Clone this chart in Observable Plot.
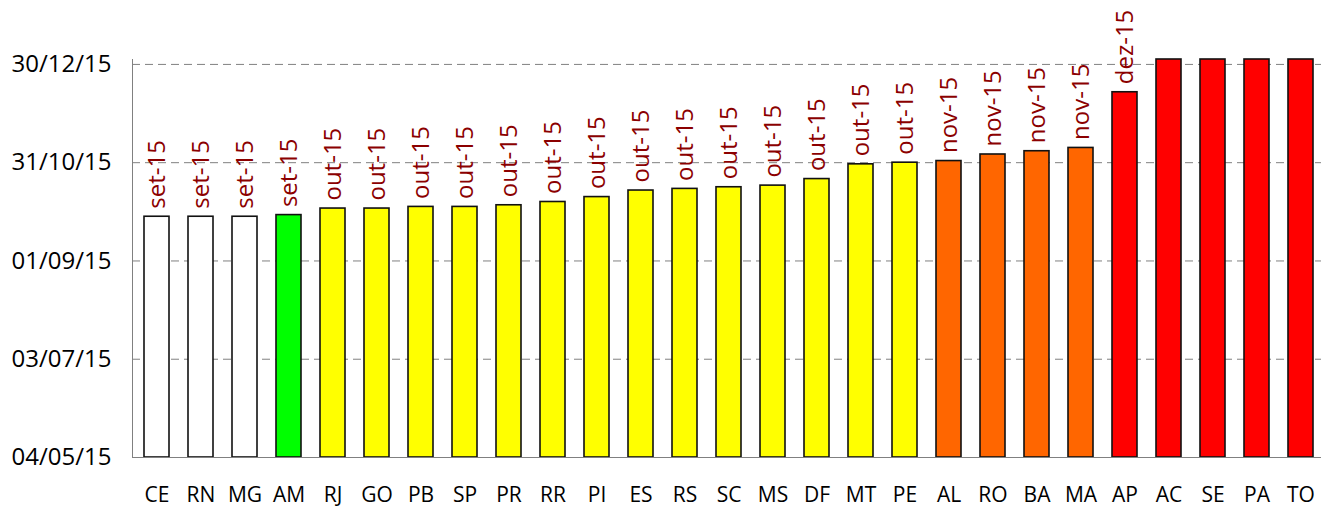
<!DOCTYPE html>
<html><head><meta charset="utf-8">
<script src="https://cdn.jsdelivr.net/npm/d3@7"></script>
<script src="https://cdn.jsdelivr.net/npm/@observablehq/plot@0.6"></script>
<style>html,body{margin:0;padding:0;background:#fff;overflow:hidden}</style>
</head><body><div id="chart"></div>
<script>
const states = ["CE","RN","MG","AM","RJ","GO","PB","SP","PR","RR","PI","ES","RS","SC","MS","DF","MT","PE","AL","RO","BA","MA","AP","AC","SE","PA","TO"];
const dates = ["2015-09-28","2015-09-28","2015-09-28","2015-09-29","2015-10-03","2015-10-03","2015-10-04","2015-10-04","2015-10-05","2015-10-07","2015-10-10","2015-10-14","2015-10-15","2015-10-16","2015-10-17","2015-10-21","2015-10-30","2015-10-31","2015-11-01","2015-11-05","2015-11-07","2015-11-09","2015-12-13","2016-01-02","2016-01-02","2016-01-02","2016-01-02"];
const monthLabels = ["set-15","set-15","set-15","set-15","out-15","out-15","out-15","out-15","out-15","out-15","out-15","out-15","out-15","out-15","out-15","out-15","out-15","out-15","nov-15","nov-15","nov-15","nov-15","dez-15","","","",""];
const groups = ["g0","g0","g0","g1","g2","g2","g2","g2","g2","g2","g2","g2","g2","g2","g2","g2","g2","g2","g3","g3","g3","g3","g4","g4","g4","g4","g4"];
const groupNames = ["g0","g1","g2","g3","g4"];
const groupColors = ["#ffffff","#00ff00","#ffff00","#ff6600","#ff0000"];
const yTicks = ["2015-05-04","2015-07-03","2015-09-01","2015-10-31","2015-12-30"];
const yDomain = ["2015-05-04","2016-01-02"];

const parse = d3.utcParse("%Y-%m-%d");
const data = states.map((s, i) => ({state: s, date: parse(dates[i]), label: monthLabels[i], group: groups[i]}));
const minDate = parse(yDomain[0]);
const tickDates = yTicks.map(parse);

const chart = Plot.plot({
  width: 1321,
  height: 509,
  marginLeft: 132,
  marginRight: -4,
  marginTop: 59,
  marginBottom: 52,
  style: {fontFamily: "'Open Sans', sans-serif", fontSize: "22px", color: "black", background: "white"},
  x: {domain: states, paddingInner: 0.44, paddingOuter: 0.22, label: null},
  y: {type: "utc", domain: yDomain.map(parse), label: null},
  color: {type: "ordinal", domain: groupNames, range: groupColors},
  marks: [
    Plot.gridY(tickDates, {stroke: "#808080", strokeOpacity: 1, strokeDasharray: "8,5"}),
    Plot.barY(data, {x: "state", y1: () => minDate, y2: "date", fill: "group", stroke: "#111", strokeWidth: 1.6}),
    Plot.text(data, {x: "state", y: "date", text: "label", rotate: -90, textAnchor: "start", lineAnchor: "middle", dy: -8, fill: "#8b0000", fontSize: 24}),
    Plot.frame({anchor: "left", stroke: "#808080"}),
    Plot.frame({anchor: "bottom", stroke: "#808080"}),
    Plot.axisY(tickDates, {tickSize: 0, tickPadding: 21, tickFormat: d3.utcFormat("%d/%m/%y"), fontSize: 24, fill: "black", label: null}),
    Plot.axisX({tickSize: 0, tickPadding: 30, fontSize: 21, fill: "black", label: null})
  ]
});
document.getElementById("chart").appendChild(chart);
</script>
</body></html>
